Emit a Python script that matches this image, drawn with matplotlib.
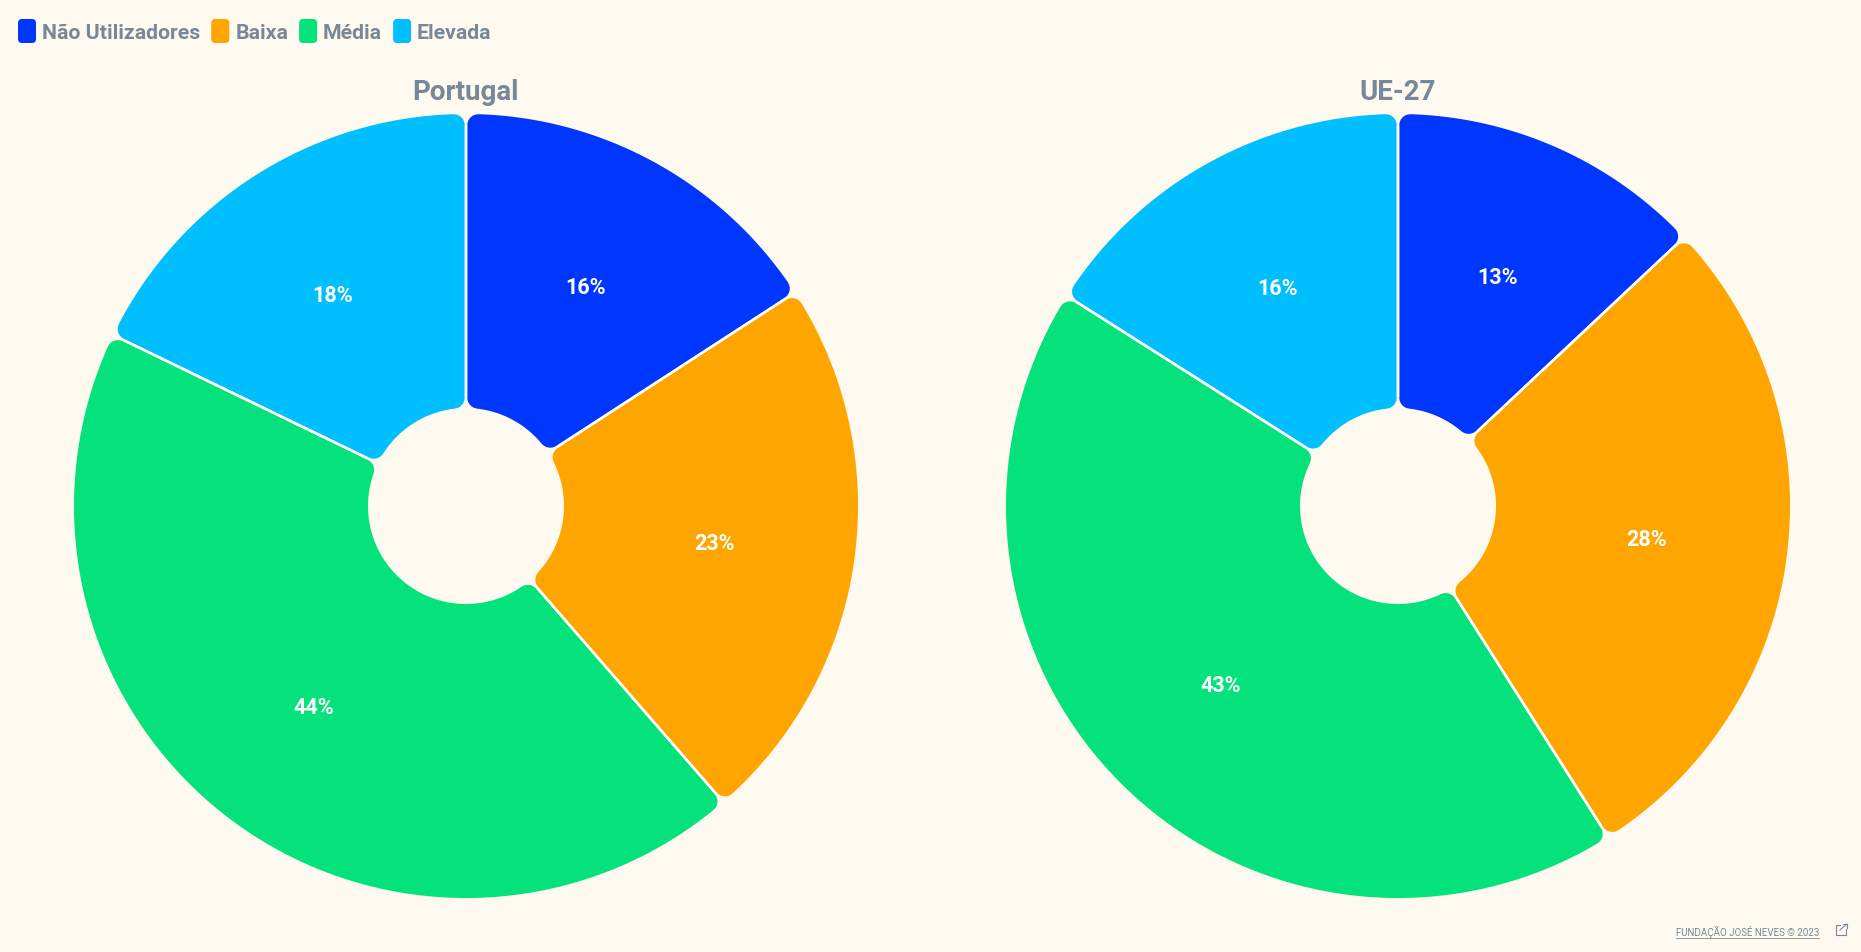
import matplotlib
matplotlib.use('Agg')
import matplotlib.pyplot as plt
import numpy as np
from matplotlib.patches import Polygon, FancyBboxPatch

categories = ['Não Utilizadores', 'Baixa', 'Média', 'Elevada']
colors = ['#0037FF', '#FFA500', '#05E27B', '#00BFFF']
portugal = [16, 23, 44, 18]
ue27 = [13, 28, 43, 16]
titles = ['Portugal', 'UE-27']
footer = 'FUNDAÇÃO JOSÉ NEVES © 2023'

W, H = 1861, 953
BG = '#FFFAF0'
TXT = '#778899'
FONT = ['Roboto', 'DejaVu Sans']
PX = 72 / 100  # points per pixel

fig = plt.figure(figsize=(W / 100, H / 100), dpi=100, facecolor=BG)
ax = fig.add_axes([0, 0, 1, 1])
ax.set_facecolor(BG)

R, r = 392, 98
rc = 11
gap = 2.5
L = 2 * rc
d = gap / 2 + L / 2
Ro, Ri = R - L / 2, r + L / 2


def pt(cx, cy, rho, deg):
    a = np.deg2rad(deg)
    return cx + rho * np.cos(a), cy + rho * np.sin(a)


def donut(cx, cy, values, title):
    wedges, _ = ax.pie(values, startangle=90, counterclock=False,
                       center=(cx, cy), radius=R, colors=colors,
                       normalize=True)
    for w, col, v in zip(wedges, colors, values):
        t1, t2 = w.theta1, w.theta2
        w.remove()
        do = np.rad2deg(np.arcsin(d / Ro))
        di = np.rad2deg(np.arcsin(d / Ri))
        outer = np.linspace(t1 + do, t2 - do, 200)
        inner = np.linspace(t2 - di, t1 + di, 80)
        xs = np.concatenate([cx + Ro * np.cos(np.deg2rad(outer)),
                             cx + Ri * np.cos(np.deg2rad(inner))])
        ys = np.concatenate([cy + Ro * np.sin(np.deg2rad(outer)),
                             cy + Ri * np.sin(np.deg2rad(inner))])
        poly = Polygon(np.column_stack([xs, ys]), closed=True,
                       facecolor=col, edgecolor=col, lw=L * PX,
                       joinstyle='round', zorder=2)
        ax.add_patch(poly)
        # white separator along the straight edge
        x0, y0 = pt(cx, cy, Ri, t1)
        x1, y1 = pt(cx, cy, Ro, t1)
        ax.plot([x0, x1], [y0, y1], color='white', lw=gap * PX,
                solid_capstyle='butt', zorder=3)
        tm = (t1 + t2) / 2
        lx, ly = pt(cx, cy, 0.64 * R, tm)
        ax.text(lx, ly - 7.5, f'{v}%', ha='center', va='baseline',
                fontsize=15.5, fontweight='bold', color='white',
                family=FONT, zorder=4)
    ax.text(cx, H - 100, title, ha='center', va='baseline', fontsize=20,
            fontweight='bold', color=TXT, family=FONT)


donut(466, H - 507, portugal, titles[0])
donut(1398, H - 507, ue27, titles[1])

ax.set_xlim(0, W)
ax.set_ylim(0, H)
ax.set_aspect('auto')
ax.axis('off')

# legend
renderer = fig.canvas.get_renderer()
x = 18
for cat, col in zip(categories, colors):
    ax.add_patch(FancyBboxPatch((x, H - 44), 18, 24,
                                boxstyle='round,pad=0,rounding_size=4',
                                facecolor=col, edgecolor='none'))
    t = ax.text(x + 24, H - 39, cat, ha='left', va='baseline', fontsize=15.3,
                fontweight='bold', color=TXT, family=FONT)
    bb = t.get_window_extent(renderer)
    x = x + 24 + bb.width + 11

# footer
ft = ax.text(1676, H - 936, footer, ha='left', va='baseline', fontsize=7,
             color=TXT, family=FONT)
bb = ft.get_window_extent(renderer)
ax.plot([bb.x0, bb.x1], [H - 939, H - 939], color=TXT, lw=0.6)
# external link icon
ix0, iy0, s = 1836, H - 936, 10
ax.plot([ix0 + 4, ix0, ix0, ix0 + s, ix0 + s],
        [iy0 + s, iy0 + s, iy0, iy0, iy0 + s - 4], color=TXT, lw=0.8)
ax.plot([ix0 + 4, ix0 + s + 1], [iy0 + s - 5, iy0 + s + 1], color=TXT, lw=0.8)
ax.plot([ix0 + s - 3, ix0 + s + 1, ix0 + s + 1],
        [iy0 + s + 1, iy0 + s + 1, iy0 + s - 3], color=TXT, lw=0.8)

fig.savefig('out.png', dpi=100, facecolor=BG)
